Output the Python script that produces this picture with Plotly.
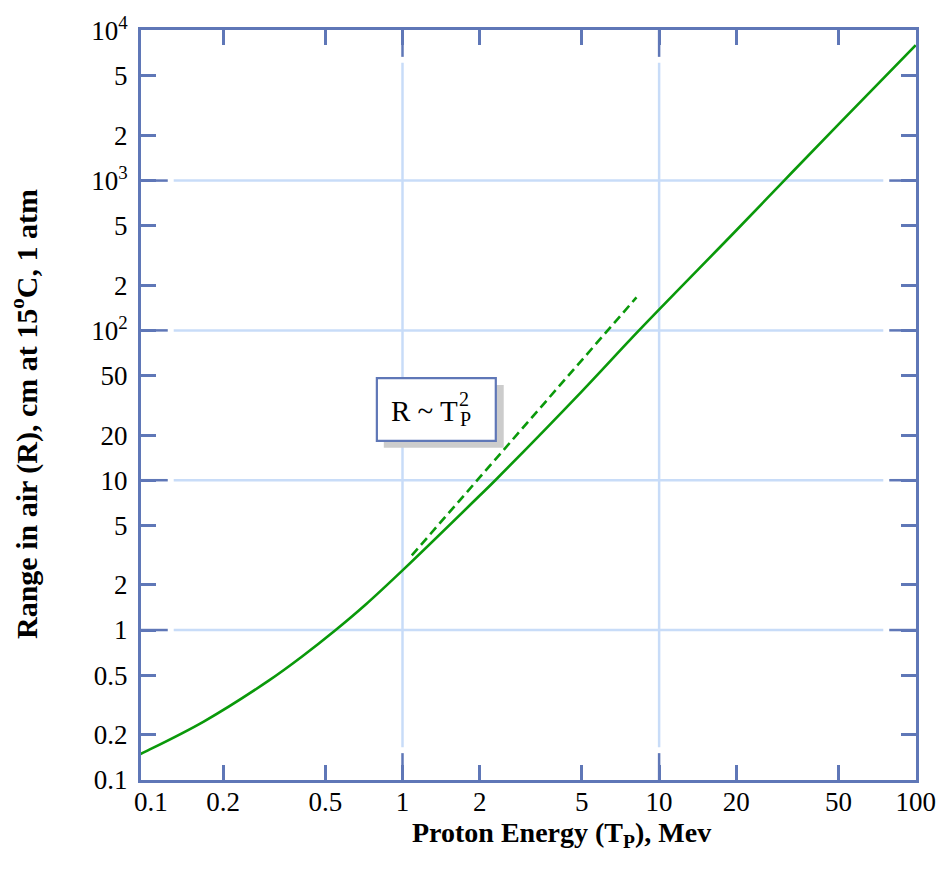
import math
import plotly.graph_objects as go

# ---- data ----
energy_mev = [0.081, 0.1, 0.168, 0.302, 0.405, 0.549, 0.719, 1.0, 2.0, 2.3, 5.0, 8.35, 20.0, 30.7, 50.0, 100.0]
range_cm = [0.131, 0.155, 0.245, 0.461, 0.663, 1.0, 1.48, 2.5, 7.9, 10.0, 39.2, 100.0, 466.0, 1000.0, 2375.0, 8000.0]

trend_energy = [1.087, 8.16]
trend_range = [3.15, 166.0]

x_tickvals = [0.1, 0.2, 0.5, 1, 2, 5, 10, 20, 50, 100]
x_ticktext = ["0.1", "0.2", "0.5", "1", "2", "5", "10", "20", "50", "100"]
y_tickvals = [0.1, 0.2, 0.5, 1, 2, 5, 10, 20, 50, 100, 200, 500, 1000, 2000, 5000, 10000]
y_ticktext = ["0.1", "0.2", "0.5", "1", "2", "5", "10", "20", "50", "10<sup>2</sup>",
              "2", "5", "10<sup>3</sup>", "2", "5", "10<sup>4</sup>"]
x_decades = [1, 10]
y_decades = [1, 10, 100, 1000]

# ---- styling ----
W, H = 948, 871
L, R, T, B = 141, 25, 26, 91
PW, PH = W - L - R, H - T - B
FRAME = "#5f77b7"
GRID = "#c8dcf8"
GREEN = "#0a990a"
FONT = "Liberation Serif, Times New Roman, serif"


def px(xp):
    return (xp - L) / PW


def py(yp):
    return (H - B - yp) / PH


fig = go.Figure()
fig.add_trace(go.Scatter(x=energy_mev, y=range_cm, mode="lines",
                         line=dict(color=GREEN, width=2.6, shape="spline", smoothing=1.0),
                         showlegend=False, hoverinfo="skip"))
fig.add_trace(go.Scatter(x=trend_energy, y=trend_range, mode="lines",
                         line=dict(color=GREEN, width=2.6, dash="9px,5px"),
                         showlegend=False, hoverinfo="skip"))

shapes = []
long_t, gap = 27, 33
for d in x_decades:
    shapes.append(dict(type="line", xref="x", yref="paper", x0=d, x1=d,
                       y0=gap / PH, y1=1 - gap / PH, line=dict(color=GRID, width=2.5), layer="below"))
    shapes.append(dict(type="line", xref="x", yref="paper", x0=d, x1=d,
                       y0=0, y1=long_t / PH, line=dict(color=FRAME, width=2.5)))
    shapes.append(dict(type="line", xref="x", yref="paper", x0=d, x1=d,
                       y0=1 - long_t / PH, y1=1, line=dict(color=FRAME, width=2.5)))
for d in y_decades:
    shapes.append(dict(type="line", xref="paper", yref="y", y0=d, y1=d,
                       x0=gap / PW, x1=1 - gap / PW, line=dict(color=GRID, width=2.5), layer="below"))
    shapes.append(dict(type="line", xref="paper", yref="y", y0=d, y1=d,
                       x0=0, x1=long_t / PW, line=dict(color=FRAME, width=2.5)))
    shapes.append(dict(type="line", xref="paper", yref="y", y0=d, y1=d,
                       x0=1 - long_t / PW, x1=1, line=dict(color=FRAME, width=2.5)))

# annotation box with shadow
shapes.append(dict(type="rect", xref="paper", yref="paper",
                   x0=px(386), x1=px(507), y0=py(446), y1=py(383),
                   fillcolor="#cccccc", line=dict(width=0)))
shapes.append(dict(type="rect", xref="paper", yref="paper",
                   x0=px(379), x1=px(499), y0=py(439), y1=py(376),
                   fillcolor="white", line=dict(color=FRAME, width=2.2)))

annotations = [
    dict(text="R ~ T", xref="paper", yref="paper", x=px(391), y=py(409),
         xanchor="left", yanchor="middle", showarrow=False,
         font=dict(family=FONT, size=29, color="black")),
    dict(text="2", xref="paper", yref="paper", x=px(460), y=py(397),
         xanchor="left", yanchor="middle", showarrow=False,
         font=dict(family=FONT, size=20, color="black")),
    dict(text="P", xref="paper", yref="paper", x=px(461), y=py(417),
         xanchor="left", yanchor="middle", showarrow=False,
         font=dict(family=FONT, size=20, color="black")),
    dict(text="<b>Range in air (R), cm at 15<sup>o</sup>C, 1 atm</b>", xref="paper", yref="paper",
         x=px(24), y=py(412), xanchor="center", yanchor="middle", textangle=-90,
         showarrow=False, font=dict(family=FONT, size=30, color="black")),
    dict(text="<b>Proton Energy (T<sub>P</sub>), Mev</b>", xref="paper", yref="paper",
         x=px(565), y=py(835), xanchor="center", yanchor="middle",
         showarrow=False, font=dict(family=FONT, size=28, color="black")),
    # first x label sits at the left frame edge (no tick mark drawn there)
    dict(text=x_ticktext[0], xref="x", yref="paper", x=math.log10(x_tickvals[0]) + 0.02,
         y=py(802), xanchor="center", yanchor="middle", showarrow=False,
         font=dict(family=FONT, size=27, color="black")),
]

fig.update_layout(
    width=W, height=H,
    margin=dict(l=L, r=R, t=T, b=B),
    paper_bgcolor="white", plot_bgcolor="white",
    shapes=shapes, annotations=annotations,
    font=dict(family=FONT, size=27, color="black"),
    xaxis=dict(type="log", range=[-1.019, 2.001], tickvals=x_tickvals[1:], ticktext=x_ticktext[1:],
               ticks="inside", ticklen=15, tickwidth=2.5, tickcolor=FRAME,
               showline=True, linecolor=FRAME, linewidth=3, mirror="ticks",
               showgrid=False, zeroline=False, ticklabelstandoff=-4,
               tickfont=dict(family=FONT, size=27, color="black")),
    yaxis=dict(type="log", range=[-1.001, 4.005], tickvals=y_tickvals, ticktext=y_ticktext,
               ticks="inside", ticklen=15, tickwidth=2.5, tickcolor=FRAME,
               showline=True, linecolor=FRAME, linewidth=3, mirror="ticks",
               showgrid=False, zeroline=False, ticklabelstandoff=5,
               tickfont=dict(family=FONT, size=27, color="black")),
)

fig.write_html("out.html", config={"displayModeBar": False},
               post_script="document.body.style.margin='0';")
